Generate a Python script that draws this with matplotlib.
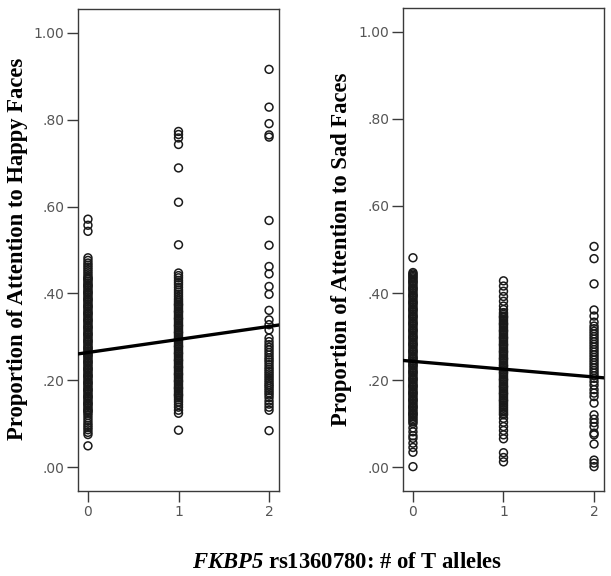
import numpy as np
import matplotlib.pyplot as plt

plt.rcParams["mathtext.fontset"] = "custom"
plt.rcParams["mathtext.it"] = "Liberation Serif:bold:italic"
plt.rcParams["mathtext.rm"] = "Liberation Serif:bold:italic"

# proportion values (thousandths), per genotype group
happy_0 = [571, 557, 543,
           482, 476, 470, 465, 460, 455, 450, 445, 440, 436, 432, 428, 424, 420,
           416, 412, 408, 404, 400, 396, 392, 388, 384, 380, 376, 372, 368, 364,
           360, 356, 352, 348, 344, 340, 336, 332, 328, 324, 320, 316, 312, 308,
           304, 300, 296, 292, 288, 284, 280, 276, 272, 268, 264, 260, 256, 252,
           248, 244, 240, 236, 232, 228, 224, 220, 216, 212, 208, 204, 200, 196,
           192, 188, 184, 180, 176, 172, 168, 164, 160, 156, 152, 148, 144, 140,
           136, 132, 128, 124, 119, 113, 107, 101, 96, 91, 86, 80, 75, 49,
           434, 418, 402, 386, 370, 354, 338, 322, 306, 290, 274, 258, 242, 226,
           210, 194, 178, 162, 146, 130]
happy_1 = [773, 766, 758, 743, 689, 610, 512,
           447, 441, 436, 430, 425, 420, 414, 408, 403, 398, 393, 388, 384, 380,
           376, 372, 368, 364, 360, 356, 352, 348, 344, 340, 336, 332, 328, 324,
           320, 316, 312, 308, 304, 300, 296, 292, 288, 284, 280, 276, 272, 268,
           264, 260, 256, 252, 248, 244, 240, 236, 232, 228, 224, 220, 216, 212,
           208, 204, 200, 196, 192, 188, 184, 180, 176, 172, 168, 164, 160, 155,
           150, 144, 138, 131, 124, 85,
           374, 358, 342, 326, 310, 294, 278, 262, 246, 230, 214, 198, 182, 166]
happy_2 = [916, 829, 791, 765, 760, 568, 511, 462, 445, 416, 398, 361, 339,
           328, 316, 297, 289, 282, 276, 270, 264, 258, 252, 247, 242, 236, 230,
           225, 220, 215, 210, 205, 200, 195, 190, 186, 181, 176, 171, 166, 160,
           152, 145, 138, 131, 84]

sad_0 = [481,
         447, 444, 441, 438, 435, 432, 428, 424, 420, 416, 412, 408, 404, 400,
         396, 392, 388, 384, 380, 376, 372, 368, 364, 360, 356, 352, 348, 344,
         340, 336, 332, 328, 324, 320, 316, 312, 308, 304, 300, 296, 292, 288,
         284, 280, 276, 272, 268, 264, 260, 256, 252, 248, 244, 240, 236, 232,
         228, 224, 220, 216, 212, 208, 204, 200, 196, 192, 188, 184, 180, 176,
         172, 168, 164, 160, 156, 152, 148, 144, 140, 136, 132, 128, 124, 120,
         116, 112, 108, 104, 100, 90, 81, 72, 66, 55, 45, 34, 1,
         426, 410, 394, 378, 362, 346, 330, 314, 298, 282, 266, 250, 234, 218,
         202, 186, 170, 154, 138, 122]
sad_1 = [428, 416, 404, 392, 381, 370, 362,
         355, 351, 347, 343, 339, 335, 331, 327, 323, 319, 315, 311, 307, 303,
         299, 295, 291, 287, 283, 279, 275, 271, 267, 263, 259, 255, 251, 247,
         243, 239, 235, 231, 227, 223, 219, 215, 211, 207, 203, 199, 195, 191,
         187, 183, 179, 175, 171, 167, 163, 159, 155, 151, 147, 143, 139, 135,
         131, 127, 123, 120, 112, 103, 93, 84, 74, 65, 33, 22, 12,
         345, 329, 313, 297, 281, 265, 249, 233, 217, 201, 185, 169, 153]
sad_2 = [507, 479, 421, 361, 347, 333, 324, 318, 312, 306, 300, 294, 288,
         282, 276, 270, 264, 258, 252, 246, 240, 234, 228, 222, 216, 210, 204,
         196, 188, 178, 170, 162, 147, 120, 110, 102, 93, 78, 74, 53, 16, 9, 1]

# fitted regression lines: (intercept, slope)
happy_fit = (0.264, 0.030)
sad_fit = (0.243, -0.018)

y_ticks = [0.0, 0.2, 0.4, 0.6, 0.8, 1.0]
y_tick_labels = [".00", ".20", ".40", ".60", ".80", "1.00"]
x_ticks = [0, 1, 2]

panels = [
    ([happy_0, happy_1, happy_2], happy_fit,
     "Proportion of Attention to Happy Faces", [78, 9, 279, 491], 18),
    ([sad_0, sad_1, sad_2], sad_fit,
     "Proportion of Attention to Sad Faces", [403, 8, 604, 491], 341),
]

W, H = 611, 576
fig = plt.figure(figsize=(W / 100, H / 100), dpi=100)
edge = "#3a3a3a"

for groups, fit, label, box, lab_x in panels:
    x0, y0, x1, y1 = box
    ax = fig.add_axes([x0 / W, 1 - y1 / H, (x1 - x0) / W, (y1 - y0) / H])
    for g, vals in enumerate(groups):
        v = np.array(vals) / 1000.0
        ax.scatter(np.full(len(v), g), v, s=32, facecolors="none",
                   edgecolors="#1a1a1a", linewidths=1.1, zorder=2)
    xs = np.array([-0.2, 2.2])
    ax.plot(xs, fit[0] + fit[1] * xs, color="black", lw=2.4, zorder=3)
    ax.set_xlim(-0.11, 2.11)
    ax.set_ylim(-0.055, 1.055)
    ax.set_yticks(y_ticks)
    ax.set_yticklabels(y_tick_labels)
    ax.set_xticks(x_ticks)
    ax.tick_params(direction="out", length=8, width=1, color=edge,
                   labelcolor="#555555", labelsize=10, pad=2)
    for sp in ax.spines.values():
        sp.set_color(edge)
        sp.set_linewidth(1)
    fig.text(lab_x / W, 1 - 249 / H, label, rotation=90, ha="center",
             va="center", fontsize=16.3, fontweight="bold",
             family="Liberation Serif")

fig.text(347 / W, 1 - 562 / H,
         r"$\mathit{FKBP5}$" + " rs1360780: # of T alleles",
         ha="center", va="center", fontsize=16.3, fontweight="bold",
         family="Liberation Serif")

fig.savefig("out.png", dpi=100)
